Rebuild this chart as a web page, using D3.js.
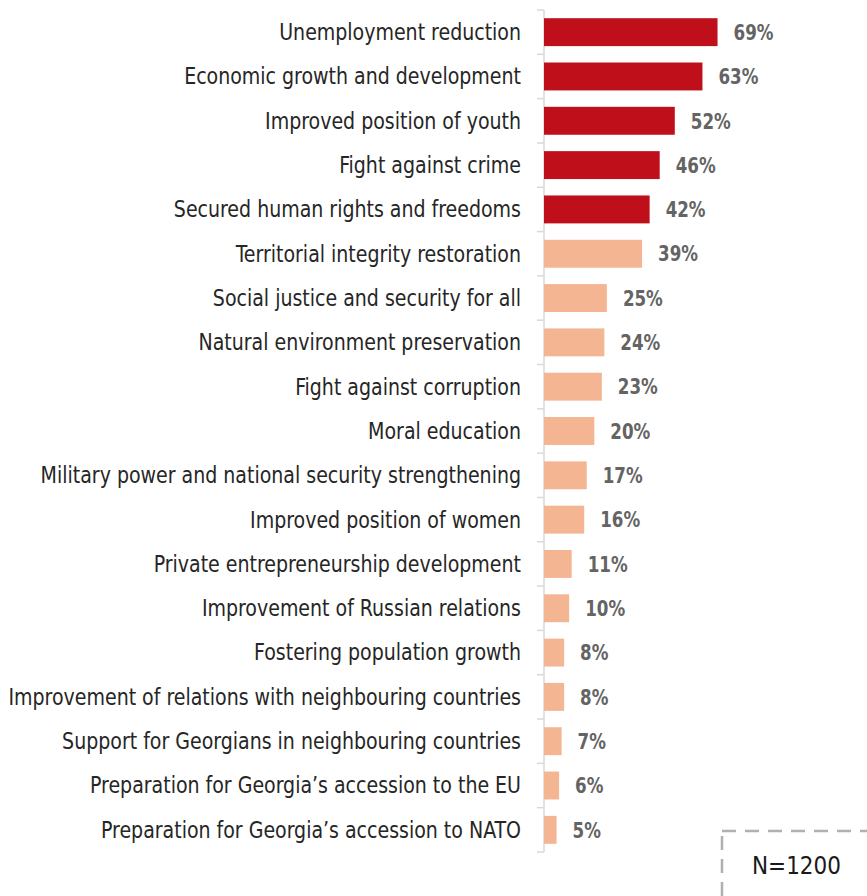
<!DOCTYPE html>
<html><head><meta charset="utf-8">
<script src="https://cdn.jsdelivr.net/npm/d3@7"></script>
<style>body{margin:0;background:#fff}svg{display:block}</style>
</head><body>
<svg id="c" width="867" height="896"></svg>
<script>
const categories = ["Unemployment reduction","Economic growth and development","Improved position of youth","Fight against crime","Secured human rights and freedoms","Territorial integrity restoration","Social justice and security for all","Natural environment preservation","Fight against corruption","Moral education","Military power and national security strengthening","Improved position of women","Private entrepreneurship development","Improvement of Russian relations","Fostering population growth","Improvement of relations with neighbouring countries","Support for Georgians in neighbouring countries","Preparation for Georgia\u2019s accession to the EU","Preparation for Georgia\u2019s accession to NATO"];
const values = [69,63,52,46,42,39,25,24,23,20,17,16,11,10,8,8,7,6,5];
const highlighted = [true,true,true,true,true,false,false,false,false,false,false,false,false,false,false,false,false,false,false];
const sampleNote = "N=1200";

const svg = d3.select("#c");
const x0 = 544;
const x = d3.scaleLinear().domain([0,100]).range([x0, x0+251.5]);
const y = d3.scaleBand().domain(categories).range([10,852]).paddingInner(0.37).paddingOuter(0.185);

const labelFont = "'DejaVu Sans Condensed','Liberation Sans Narrow','Open Sans',sans-serif";

// axis
svg.append("line").attr("x1",x0).attr("x2",x0).attr("y1",10).attr("y2",852).attr("stroke","#d9d9d9").attr("stroke-width",1.5);
const bounds = d3.range(categories.length+1).map(i => 10 + i*y.step());
svg.selectAll("line.tick").data(bounds).enter().append("line")
  .attr("x1",x0-7).attr("x2",x0).attr("y1",d=>d).attr("y2",d=>d)
  .attr("stroke","#d9d9d9").attr("stroke-width",1.5);

svg.selectAll("rect.bar").data(categories).enter().append("rect")
  .attr("x",x(0)).attr("y",d=>y(d)).attr("height",y.bandwidth())
  .attr("width",(d,i)=>x(values[i])-x(0))
  .attr("fill",(d,i)=>highlighted[i]?"#BE0F1A":"#F4B592");

const labels = svg.selectAll("text.cat").data(categories).enter().append("text")
  .attr("class","cat").attr("x",0).attr("y",0).attr("dy","0.35em")
  .attr("text-anchor","end").attr("font-family",labelFont).attr("font-size",22.5)
  .attr("fill","#262626").text(d=>d);
let maxW = 0;
labels.each(function(){ maxW = Math.max(maxW, this.getComputedTextLength()); });
const fc = 513 / maxW;
labels.attr("transform", d => `translate(521,${y(d)+y.bandwidth()/2}) scale(${fc},1)`);

const vals = svg.selectAll("text.val").data(categories).enter().append("text")
  .attr("class","val").attr("x",0).attr("y",0).attr("dy","0.35em")
  .attr("font-family",labelFont).attr("font-weight","bold").attr("font-size",22)
  .attr("fill","#646464").text((d,i)=>values[i]+"%");
const w69 = vals.node().getComputedTextLength();
const fv = 40 / w69;
vals.attr("transform",(d,i)=>`translate(${x(values[i])+16},${y(d)+y.bandwidth()/2}) scale(${fv},1)`);

// N box
svg.append("rect").attr("x",722).attr("y",831).attr("width",200).attr("height",120)
  .attr("fill","none").attr("stroke","#b0b0b0").attr("stroke-width",2.5).attr("stroke-dasharray","14,9");
const nt = svg.append("text").attr("x",0).attr("y",0).attr("font-family",labelFont).attr("font-size",25)
  .attr("fill","#1a1a1a").text(sampleNote);
const fn = 89 / nt.node().getComputedTextLength();
nt.attr("transform",`translate(752,874) scale(${fn},1)`);
</script>
</body></html>
